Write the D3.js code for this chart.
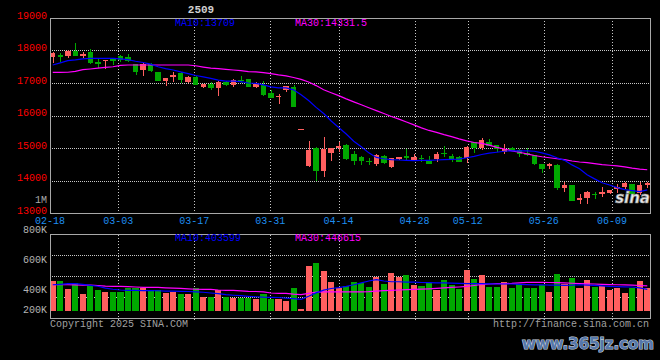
<!DOCTYPE html>
<html><head><meta charset="utf-8">
<script src="https://cdn.jsdelivr.net/npm/d3@7"></script>
<style>
html,body{margin:0;padding:0;background:#000;}
svg{display:block;}
text{font-family:"Liberation Mono","DejaVu Sans Mono",monospace;font-size:10px;}
</style>
</head><body>
<svg id="c" width="660" height="360"></svg>
<script>
const title = "2509";
const dates = ["02-18","02-19","02-20","02-21","02-24","02-25","02-26","02-27","02-28",
"03-03","03-04","03-05","03-06","03-07","03-10","03-11","03-12","03-13","03-14",
"03-17","03-18","03-19","03-20","03-21","03-24","03-25","03-26","03-27","03-28","03-31",
"04-01","04-02","04-03","04-07","04-08","04-09","04-10","04-11","04-14","04-15","04-16","04-17","04-18",
"04-21","04-22","04-23","04-24","04-25","04-28","04-29","04-30",
"05-06","05-07","05-08","05-09","05-12","05-13","05-14","05-15","05-16",
"05-19","05-20","05-21","05-22","05-23","05-26","05-27","05-28","05-29","05-30",
"06-03","06-04","06-05","06-06","06-09","06-10","06-11","06-12","06-13","06-16"];
const tickDates = ["02-18","03-03","03-17","03-31","04-14","04-28","05-12","05-26","06-09"];

const open = [17790,17870,17840,17980,17830,17950,17650,17680,17760,17830,
17790,17590,17400,17590,17340,17070,17200,17300,17040,17200,
16890,16960,16860,17020,16940,17090,17120,16890,16940,16700,
16560,16780,16870,15590,14460,14990,14290,14860,15010,15090,
14820,14730,14610,14500,14760,14430,14650,14750,14630,14700,
14610,14650,14840,14750,14730,14700,15190,14990,15170,15090,
14890,14990,14940,14860,14780,14520,14450,14470,13760,13860,
13400,13450,13590,13580,13610,13730,13810,13890,13630,13850];
const high = [17960,17910,18010,18240,17950,18040,17740,17710,17770,17870,
17890,17590,17610,17620,17350,17160,17330,17340,17220,17210,
16970,17040,17060,17060,17120,17220,17130,17020,17060,16790,
16650,16920,16940,15590,15220,15040,15330,15000,15200,15110,
14910,14750,14700,14810,14770,14690,14730,14960,14810,14790,
14760,14890,15060,14810,14740,15050,15200,15320,15280,15100,
15120,15040,14960,14990,14790,14520,14550,14500,13960,13870,
13600,13680,13640,13810,13710,13890,13960,13900,13960,13960];
const low = [17630,17660,17760,17830,17760,17590,17460,17420,17560,17650,
17640,17250,17220,17350,17060,16920,17040,16990,17010,16930,
16840,16780,16610,16920,16890,16990,16880,16860,16610,16530,
16350,16730,16260,15590,14430,13990,14120,14600,14870,14640,
14480,14480,14480,14460,14500,14380,14630,14630,14620,14580,
14500,14580,14730,14580,14570,14530,14860,14940,15070,14890,
14820,14910,14730,14750,14470,14240,14340,13710,13660,13360,
13280,13280,13420,13500,13580,13630,13730,13580,13550,13760];
const close = [17910,17810,17980,17840,17890,17630,17590,17710,17690,17710,
17670,17340,17570,17380,17070,17160,17250,17090,17200,16930,
16970,16860,17040,16940,17090,17060,16890,16970,16630,16530,
16610,16910,16270,15590,14940,14290,14970,14990,15060,14670,
14610,14600,14560,14790,14530,14680,14710,14700,14730,14650,
14510,14820,14810,14660,14580,15040,14990,15250,15070,14970,
14970,14920,14820,14790,14510,14340,14500,13760,13860,13370,
13470,13650,13540,13660,13710,13790,13910,13580,13860,13910];
const ma10 = [17554,17620,17690,17710,17740,17755,17760,17760,17758,17745,
17720,17670,17630,17580,17500,17440,17400,17340,17290,17230,
17190,17140,17090,17060,17060,17040,17000,16990,16940,16880,
16850,16850,16790,16640,16460,16250,16060,15830,15630,15430,
15210,15040,14850,14710,14670,14640,14630,14620,14610,14620,
14620,14630,14640,14650,14660,14700,14740,14800,14840,14870,
14900,14910,14910,14910,14900,14850,14790,14700,14620,14480,
14360,14180,14050,13930,13860,13780,13720,13690,13660,13709];
const ma30 = [17328,17328,17330,17360,17410,17430,17455,17480,17500,17540,
17554,17554,17554,17554,17554,17554,17554,17554,17554,17530,
17490,17455,17440,17420,17400,17380,17350,17340,17320,17290,
17250,17220,17170,17110,17030,16920,16790,16700,16610,16510,
16420,16330,16240,16150,16060,15970,15890,15800,15710,15620,
15540,15480,15410,15350,15280,15220,15170,15140,15090,15020,
14970,14910,14870,14820,14770,14730,14700,14670,14640,14600,
14570,14550,14520,14490,14470,14450,14420,14380,14350,14331.5];
const volumeK = [458,460,407,447,373,435,400,387,387,387,
413,413,413,400,400,380,387,373,373,413,
353,353,400,353,347,347,347,340,373,340,
340,327,413,273,560,580,527,453,413,427,
453,447,420,487,440,513,487,500,433,427,
447,400,467,433,407,533,473,500,420,420,
453,413,440,413,413,433,387,507,440,480,
413,467,420,427,400,413,380,413,460,413];
const volMa10K = [435,438,442,442,437,431,425,412,405,400,
398,398,396,396,395,393,392,391,390,388,
385,380,376,369,365,362,358,355,352,351,
350,346,342,338,358,381,399,410,416,424,
435,448,460,469,460,455,455,453,452,450,
449,448,447,446,444,442,442,442,441,440,
440,440,438,436,434,435,433,432,431,432,
435,433,431,428,424,422,421,420,414,404];
const volMa30K = [435,435,435,434,433,432,430,426,424,424,
423,420,418,418,417,414,412,411,408,405,
404,404,400,398,397,394,391,390,388,380,
378,377,372,369,378,386,388,388,388,388,
388,388,389,392,396,398,400,402,404,406,
408,411,414,417,420,424,430,437,440,442,
443,444,448,451,451,451,450,449,447,445,
443,441,440,438,436,435,434,432,430,428];
const priceTicks = [13000,14000,15000,16000,17000,18000,19000];
const volTicks = [800000,600000,400000,200000];
const volTickLabels = ["800K","600K","400K","200K"];
const maPriceLabels = ["MA10:13709","MA30:14331.5"];
const maVolLabels = ["MA10:403599","MA30:446615"];

const UP="#ff5f5f", DOWN="#00a800", BLUE="#0000ff", MAG="#ff00ff", GRID="#c8c8c8", BORDER="#a8a8a8";
const svg = d3.select("#c");
svg.append("rect").attr("width",660).attr("height",360).attr("fill","#000");

const L=50, R=650, PT=18, PB=213, VT=234.5, VB=318, VBASE=310.7;
const x = d3.scaleBand().domain(dates).range([L,R]).paddingInner(0.27).paddingOuter(0).align(0);
const bw = x.bandwidth();
const cx = d => x(d) + bw/2;
const xg = d3.scaleLinear().domain([0,dates.length-1]).range([L,R]);
const y = d3.scaleLinear().domain([13000,19000]).range([PB,PT]);
const vy = d3.scaleLinear().domain([262000,800000]).range([VBASE,230]);

// ---- price panel grid
const g = svg.append("g").attr("shape-rendering","crispEdges");
g.selectAll(".hg").data(priceTicks.filter(v=>v>13000 && v<19000)).join("line")
 .attr("x1",L).attr("x2",R).attr("y1",d=>Math.round(y(d))+0.5).attr("y2",d=>Math.round(y(d))+0.5)
 .attr("stroke",GRID).attr("stroke-dasharray","1,1");
const tickIdx = tickDates.map(t=>dates.indexOf(t));
g.selectAll(".vg").data(tickIdx.filter(i=>i>0)).join("line")
 .attr("x1",d=>Math.round(xg(d))+0.5).attr("x2",d=>Math.round(xg(d))+0.5).attr("y1",PT).attr("y2",PB+2)
 .attr("stroke",GRID).attr("stroke-dasharray","1,2");
// volume grid
const vgl=[1,2,3].map(k=>VT+(VB-VT)*k/4);
g.selectAll(".vhg").data(vgl).join("line")
 .attr("x1",L).attr("x2",R).attr("y1",d=>Math.round(d)+0.5).attr("y2",d=>Math.round(d)+0.5)
 .attr("stroke",GRID).attr("stroke-dasharray","1,1");
g.selectAll(".vvg").data(tickIdx.filter(i=>i>0)).join("line")
 .attr("x1",d=>Math.round(xg(d))+0.5).attr("x2",d=>Math.round(xg(d))+0.5).attr("y1",VT).attr("y2",VB+3)
 .attr("stroke",GRID).attr("stroke-dasharray","1,2");

// ---- candles
const idx = d3.range(dates.length);
const cg = svg.append("g").attr("shape-rendering","crispEdges");
cg.selectAll(".wick").data(idx).join("line")
 .attr("x1",i=>Math.round(cx(dates[i]))+0.5).attr("x2",i=>Math.round(cx(dates[i]))+0.5)
 .attr("y1",i=>y(high[i])).attr("y2",i=>y(low[i]))
 .attr("stroke",i=>close[i]>=open[i]?UP:DOWN);
cg.selectAll(".body").data(idx).join("rect")
 .attr("x",i=>x(dates[i])).attr("width",bw)
 .attr("y",i=>y(Math.max(open[i],close[i])))
 .attr("height",i=>Math.max(1.2,Math.abs(y(open[i])-y(close[i]))))
 .attr("fill",i=>close[i]>=open[i]?UP:DOWN);

const line = (arr,sc)=>d3.line().x((v,i)=>cx(dates[i])).y(v=>sc(v))(arr);
svg.append("path").attr("d",line(ma30,y)).attr("fill","none").attr("stroke",MAG).attr("stroke-width",1.2);
svg.append("path").attr("d",line(ma10,y)).attr("fill","none").attr("stroke",BLUE).attr("stroke-width",1.2);

// ---- volume bars
const vol = volumeK.map(v=>v*1000);
cg.selectAll(".vbar").data(idx).join("rect")
 .attr("x",i=>x(dates[i])-0.3).attr("width",bw+0.6)
 .attr("y",i=>vy(vol[i])).attr("height",i=>Math.max(1,VBASE-vy(vol[i])))
 .attr("fill",i=>close[i]>=open[i]?UP:DOWN);
svg.append("path").attr("d",line(volMa30K.map(v=>v*1000),vy)).attr("fill","none").attr("stroke",MAG).attr("stroke-width",1.2);
svg.append("path").attr("d",line(volMa10K.map(v=>v*1000),vy)).attr("fill","none").attr("stroke",BLUE).attr("stroke-width",1.2);

// ---- borders
const bd = svg.append("g").attr("stroke",BORDER).attr("fill","none").attr("shape-rendering","crispEdges");
bd.append("rect").attr("x",L).attr("y",PT).attr("width",R-L).attr("height",PB-PT);
bd.append("rect").attr("x",L).attr("y",VT).attr("width",R-L).attr("height",VB-VT);

// ---- axes labels
const ax = svg.append("g");
ax.selectAll(".pl").data(priceTicks).join("text")
 .attr("x",47).attr("y",d=>Math.min(y(d)-2,211.5)).attr("dominant-baseline","central")
 .attr("text-anchor","end").attr("fill","#ff0000").text(d=>d);
ax.append("text").attr("x",47).attr("y",200.5).attr("dominant-baseline","central")
 .attr("text-anchor","end").attr("fill","#a8a8a8").text("1M");
ax.selectAll(".dl").data(tickIdx).join("text")
 .attr("x",d=>xg(d)).attr("y",221.5).attr("dominant-baseline","central")
 .attr("text-anchor","middle").attr("fill","#1e8ef0").text((d,i)=>tickDates[i]);
ax.selectAll(".vl").data(volTicks).join("text")
 .attr("x",47).attr("y",d=>Math.min(vy(d)+0.8,310.3)).attr("dominant-baseline","central")
 .attr("text-anchor","end").attr("fill","#b4b4b4").text((d,i)=>volTickLabels[i]);

// ---- MA legends & title
svg.append("text").attr("x",201).attr("y",9.5).attr("dominant-baseline","central").attr("text-anchor","middle")
 .attr("fill","#d0d0d0").style("font-size","11px").style("font-weight","bold").text(title);
svg.append("text").attr("x",175).attr("y",23.3).attr("dominant-baseline","central").attr("fill",BLUE).text(maPriceLabels[0]);
svg.append("text").attr("x",295).attr("y",23.3).attr("dominant-baseline","central").attr("fill",MAG).text(maPriceLabels[1]);
svg.append("text").attr("x",175).attr("y",238.5).attr("dominant-baseline","central").attr("fill",BLUE).text(maVolLabels[0]);
svg.append("text").attr("x",295).attr("y",238.5).attr("dominant-baseline","central").attr("fill",MAG).text(maVolLabels[1]);

// ---- footer
svg.append("text").attr("x",50).attr("y",324).attr("dominant-baseline","central").attr("fill","#a0a0a0").text("Copyright 2025 SINA.COM");
svg.append("text").attr("x",649).attr("y",324).attr("dominant-baseline","central").attr("text-anchor","end").attr("fill","#a0a0a0").text("http://finance.sina.com.cn");
svg.append("text").attr("x",650).attr("y",203).attr("text-anchor","end").attr("fill","#e8e8e8")
 .attr("stroke","#888").attr("stroke-width",0.6)
 .style("font-family","'DejaVu Sans',sans-serif").style("font-size","15px").style("font-weight","bold").style("font-style","italic").text("sina");
svg.append("text").attr("x",654).attr("y",344).attr("dominant-baseline","central").attr("text-anchor","end")
 .attr("fill","#5577aa").attr("stroke","#c8d0dc").attr("stroke-width",1.2).attr("paint-order","stroke")
 .style("font-family","'DejaVu Sans',sans-serif").style("font-size","15px").style("font-weight","bold").text("www.365jz.com");
</script>
</body></html>
